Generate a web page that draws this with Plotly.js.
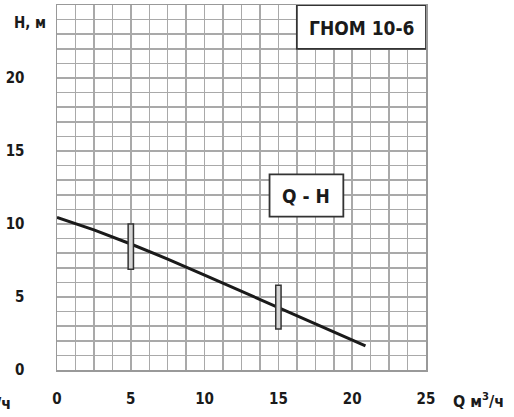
<!DOCTYPE html>
<html>
<head>
<meta charset="utf-8">
<script src="https://cdn.plot.ly/plotly-3.0.1.min.js"></script>
<style>html,body{margin:0;padding:0;background:#fff;}#chart{width:514px;height:417px;}</style>
</head>
<body>
<div id="chart"></div>
<script>
// Q-H curve (flow m3/h, head m)
var flowQ = [0, 2.5, 5, 7.5, 10, 12.5, 15, 17.5, 20.9];
var headH = [10.45, 9.6, 8.63, 7.6, 6.5, 5.4, 4.3, 3.2, 1.65];
// operating range markers
var markQ = [5, 15];
var markLow = [6.9, 2.8];
var markHigh = [10.0, 5.8];
var xTickVals = [0, 5, 10, 15, 20, 25];
var yTickVals = [0, 5, 10, 15, 20];
var modelName = 'ГНОМ 10-6';
var curveName = 'Q - H';

var FONT = '"DejaVu Sans Condensed", "Liberation Sans Narrow", sans-serif';
var TXT = '#1a1a1a';

var traces = [{
  x: flowQ, y: headH, type: 'scatter', mode: 'lines',
  line: {color: '#1a1a1a', width: 3}, hoverinfo: 'skip'
}];

var shapes = [];
for (var i = 0; i < markQ.length; i++) {
  shapes.push({type: 'rect', xref: 'x', yref: 'y', layer: 'above',
    x0: markQ[i] - 0.18, x1: markQ[i] + 0.18, y0: markLow[i], y1: markHigh[i],
    fillcolor: '#d4d4d4', line: {color: '#333', width: 1.5}});
}
shapes.push({type: 'rect', xref: 'x', yref: 'y', layer: 'above',
  x0: 16.25, x1: 25, y0: 22, y1: 25, fillcolor: '#fff', line: {color: '#333', width: 1.8}});
shapes.push({type: 'rect', xref: 'x', yref: 'y', layer: 'above',
  x0: 14.4, x1: 19.4, y0: 10.5, y1: 13.4, fillcolor: '#fff', line: {color: '#333', width: 1.8}});

var layout = {
  width: 514, height: 417,
  margin: {l: 57, r: 88, t: 5, b: 47},
  paper_bgcolor: '#fff', plot_bgcolor: '#fff',
  showlegend: false,
  font: {family: FONT, color: TXT, size: 15},
  xaxis: {
    range: [0, 25], tickmode: 'array', tickvals: xTickVals,
    showgrid: true, gridcolor: '#a9a9a9', gridwidth: 1.5,
    minor: {dtick: 1.25, showgrid: true, gridcolor: '#a9a9a9', gridwidth: 1.5, ticks: ''},
    zeroline: false, showline: true, linecolor: '#999', linewidth: 1.5, mirror: true,
    ticks: 'outside', ticklen: 14, tickcolor: 'rgba(0,0,0,0)',
    tickfont: {family: FONT, size: 15, color: TXT, weight: 'bold'}, fixedrange: true
  },
  yaxis: {
    range: [0, 25], tickmode: 'array', tickvals: yTickVals,
    showgrid: true, gridcolor: '#a9a9a9', gridwidth: 1.5,
    minor: {dtick: 1, showgrid: true, gridcolor: '#a9a9a9', gridwidth: 1.5, ticks: ''},
    zeroline: false, showline: true, linecolor: '#999', linewidth: 1.5, mirror: true,
    ticks: 'outside', ticklen: 28, tickcolor: 'rgba(0,0,0,0)',
    tickfont: {family: FONT, size: 15, color: TXT, weight: 'bold'}, fixedrange: true
  },
  shapes: shapes,
  annotations: [
    {text: 'H, м', xref: 'paper', yref: 'paper', x: -0.072, y: 0.952, xanchor: 'center', yanchor: 'middle',
     showarrow: false, font: {family: FONT, size: 15, color: TXT, weight: 'bold'}},
    {text: 'Q м<sup>3</sup>/ч', xref: 'paper', yref: 'paper', x: 1.068, y: -0.083, xanchor: 'left', yanchor: 'middle',
     showarrow: false, font: {family: FONT, size: 16, color: TXT, weight: 'bold'}},
    {text: 'Q м<sup>3</sup>/ч', xref: 'paper', yref: 'paper', x: -0.119, y: -0.09, xanchor: 'right', yanchor: 'middle',
     showarrow: false, font: {family: FONT, size: 16, color: TXT, weight: 'bold'}},
    {text: modelName, xref: 'x', yref: 'y', x: 20.62, y: 23.45, xanchor: 'center', yanchor: 'middle',
     showarrow: false, font: {family: FONT, size: 19, color: TXT, weight: 'bold'}},
    {text: curveName, xref: 'x', yref: 'y', x: 16.9, y: 11.95, xanchor: 'center', yanchor: 'middle',
     showarrow: false, font: {family: FONT, size: 19, color: TXT, weight: 'bold'}}
  ]
};

Plotly.newPlot('chart', traces, layout, {displayModeBar: false, staticPlot: true});
</script>
</body>
</html>
